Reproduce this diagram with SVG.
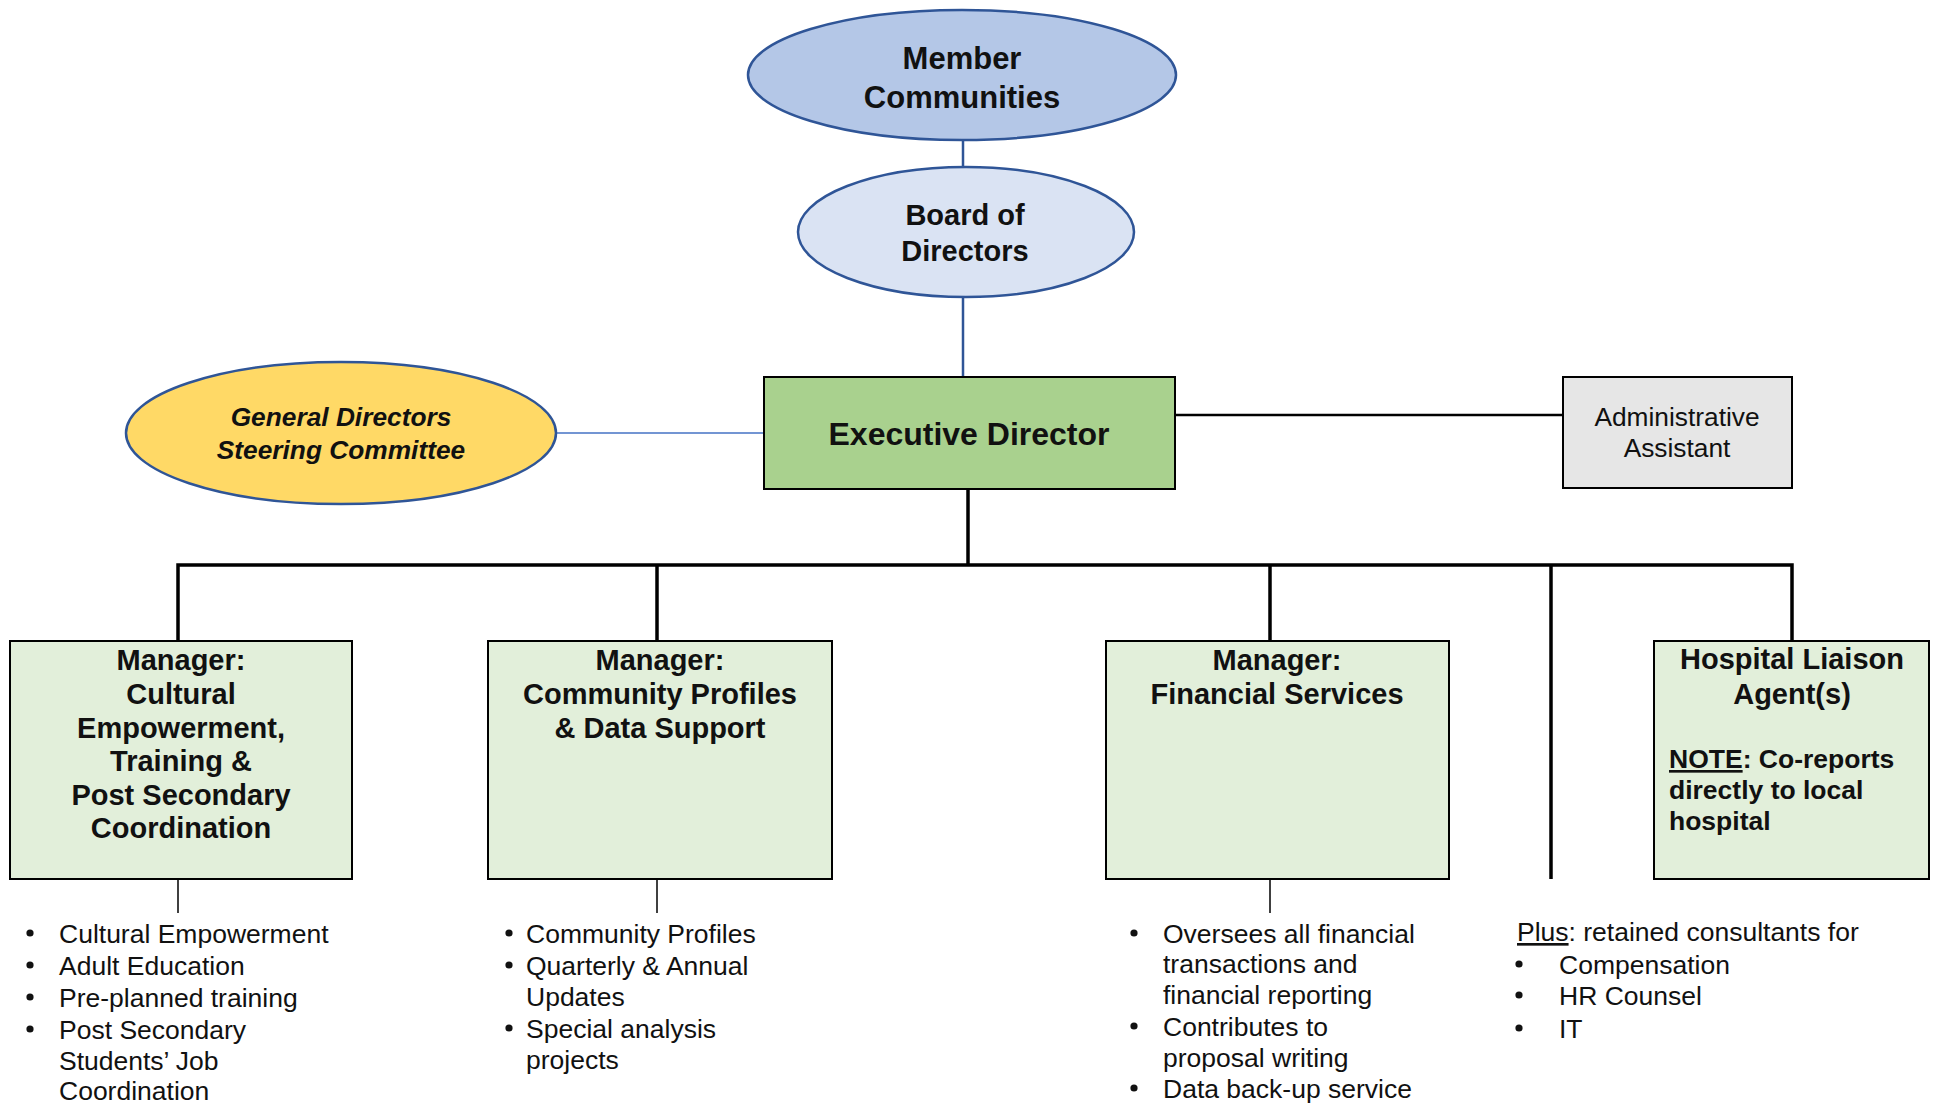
<svg xmlns="http://www.w3.org/2000/svg" width="1939" height="1103" viewBox="0 0 1939 1103">
  <style>
    text { font-family: "Liberation Sans", Arial, sans-serif; fill: #111; }
    .b { font-weight: bold; }
    .c { text-anchor: middle; }
    .ul { text-decoration: underline; }
    .ell { stroke: #2F5597; stroke-width: 2.5; }
    .box { stroke: #000; stroke-width: 2; }
    .mgr { fill: #E2EFDA; }
    .bus { stroke: #000; stroke-width: 3.5; fill: none; }
    .thin { stroke: #000; stroke-width: 1.5; fill: none; }
    .blue { stroke: #2F5597; stroke-width: 2.5; fill: none; }
    .item { font-size: 26.5px; }
    .dot { fill: #111; }
  </style>
  <defs>
    <circle id="bullet" r="3.6" class="dot"/>
  </defs>
  <rect width="1939" height="1103" fill="#fff"/>

  <!-- connectors -->
  <g id="connectors">
    <line class="blue" x1="963" y1="141" x2="963" y2="167"/>
    <line class="blue" x1="963" y1="297" x2="963" y2="377"/>
    <line x1="557" y1="433" x2="764" y2="433" stroke="#4472C4" stroke-width="1.5"/>
    <line x1="1175" y1="415" x2="1563" y2="415" stroke="#000" stroke-width="2.5"/>
    <line class="bus" x1="968" y1="489" x2="968" y2="565"/>
    <polyline class="bus" points="178,641 178,565 1792,565 1792,641"/>
    <line class="bus" x1="657" y1="565" x2="657" y2="641"/>
    <line class="bus" x1="1270" y1="565" x2="1270" y2="641"/>
    <line class="bus" x1="1551" y1="565" x2="1551" y2="879"/>
    <line class="thin" x1="178" y1="879" x2="178" y2="913"/>
    <line class="thin" x1="657" y1="879" x2="657" y2="913"/>
    <line class="thin" x1="1270" y1="879" x2="1270" y2="913"/>
  </g>

  <!-- governance -->
  <g id="member-communities">
    <ellipse class="ell" cx="962" cy="75" rx="214" ry="65" fill="#B4C7E7"/>
    <text class="b c" x="962" y="69" font-size="31">Member</text>
    <text class="b c" x="962" y="108" font-size="31">Communities</text>
  </g>
  <g id="board">
    <ellipse class="ell" cx="966" cy="232" rx="168" ry="65" fill="#DAE3F3"/>
    <text class="b c" x="965" y="225" font-size="29">Board of</text>
    <text class="b c" x="965" y="261" font-size="29">Directors</text>
  </g>
  <g id="steering-committee">
    <ellipse class="ell" cx="341" cy="433" rx="215" ry="71" fill="#FFD966"/>
    <text class="b c" x="341" y="426" font-size="26.3" font-style="italic">General Directors</text>
    <text class="b c" x="341" y="459" font-size="26.3" font-style="italic">Steering Committee</text>
  </g>
  <g id="executive-director">
    <rect class="box" x="764" y="377" width="411" height="112" fill="#A9D18E"/>
    <text class="b c" x="969" y="445" font-size="32">Executive Director</text>
  </g>
  <g id="admin-assistant">
    <rect class="box" x="1563" y="377" width="229" height="111" fill="#E6E6E6"/>
    <text class="c" x="1677" y="426" font-size="26.3">Administrative</text>
    <text class="c" x="1677" y="457" font-size="26.3">Assistant</text>
  </g>

  <!-- managers -->
  <g id="mgr-cultural">
    <rect class="box mgr" x="10" y="641" width="342" height="238"/>
    <g class="b c" font-size="29">
      <text x="181" y="670">Manager:</text>
      <text x="181" y="704">Cultural</text>
      <text x="181" y="738">Empowerment,</text>
      <text x="181" y="771">Training &amp;</text>
      <text x="181" y="805">Post Secondary</text>
      <text x="181" y="838">Coordination</text>
    </g>
  </g>
  <g id="mgr-community-profiles">
    <rect class="box mgr" x="488" y="641" width="344" height="238"/>
    <g class="b c" font-size="29">
      <text x="660" y="670">Manager:</text>
      <text x="660" y="704">Community Profiles</text>
      <text x="660" y="738">&amp; Data Support</text>
    </g>
  </g>
  <g id="mgr-financial">
    <rect class="box mgr" x="1106" y="641" width="343" height="238"/>
    <g class="b c" font-size="29">
      <text x="1277" y="670">Manager:</text>
      <text x="1277" y="704">Financial Services</text>
    </g>
  </g>
  <g id="hospital-liaison">
    <rect class="box mgr" x="1654" y="641" width="275" height="238"/>
    <g class="b" font-size="29">
      <text class="c" x="1792" y="669">Hospital Liaison</text>
      <text class="c" x="1792" y="704">Agent(s)</text>
    </g>
    <g class="b" font-size="26.5">
      <text x="1669" y="768"><tspan class="ul">NOTE</tspan>: Co-reports</text>
      <text x="1669" y="799">directly to local</text>
      <text x="1669" y="830">hospital</text>
    </g>
  </g>

  <!-- duty lists -->
  <g id="list-cultural" class="item">
    <use href="#bullet" x="30" y="933"/><text x="59" y="943">Cultural Empowerment</text>
    <use href="#bullet" x="30" y="965"/><text x="59" y="975">Adult Education</text>
    <use href="#bullet" x="30" y="997"/><text x="59" y="1007">Pre-planned training</text>
    <use href="#bullet" x="30" y="1029"/><text x="59" y="1039">Post Secondary</text>
    <text x="59" y="1070">Students’ Job</text>
    <text x="59" y="1100">Coordination</text>
  </g>
  <g id="list-community" class="item">
    <use href="#bullet" x="509" y="933"/><text x="526" y="943">Community Profiles</text>
    <use href="#bullet" x="509" y="965"/><text x="526" y="975">Quarterly &amp; Annual</text>
    <text x="526" y="1006">Updates</text>
    <use href="#bullet" x="509" y="1028"/><text x="526" y="1038">Special analysis</text>
    <text x="526" y="1069">projects</text>
  </g>
  <g id="list-financial" class="item">
    <use href="#bullet" x="1134" y="933"/><text x="1163" y="943">Oversees all financial</text>
    <text x="1163" y="973">transactions and</text>
    <text x="1163" y="1004">financial reporting</text>
    <use href="#bullet" x="1134" y="1026"/><text x="1163" y="1036">Contributes to</text>
    <text x="1163" y="1067">proposal writing</text>
    <use href="#bullet" x="1134" y="1088"/><text x="1163" y="1098">Data back-up service</text>
  </g>
  <g id="list-consultants" class="item">
    <text x="1517" y="941"><tspan class="ul">Plus</tspan>: retained consultants for</text>
    <use href="#bullet" x="1519" y="964"/><text x="1559" y="974">Compensation</text>
    <use href="#bullet" x="1519" y="995"/><text x="1559" y="1005">HR Counsel</text>
    <use href="#bullet" x="1519" y="1028"/><text x="1559" y="1038">IT</text>
  </g>
</svg>
